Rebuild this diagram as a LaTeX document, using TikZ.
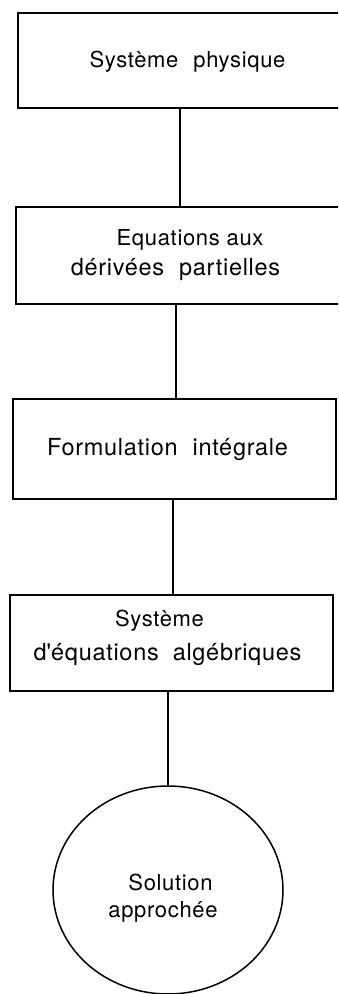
\documentclass[tikz,border=0pt]{standalone}
\usepackage{fontspec}
\setmainfont{TeX Gyre Heros}[LetterSpace=3]
\usetikzlibrary{shapes.geometric}
\newcommand{\wgap}[1]{\hspace{#1pt}}
\tikzset{
  box/.style={draw, line width=1.8pt, rectangle, inner sep=0pt},
  oval/.style={draw, line width=1.5pt, ellipse, inner sep=0pt},
  lbl/.style={anchor=base, inner sep=0pt, font=\fontsize{22}{26}\selectfont},
  lblbig/.style={anchor=base, inner sep=0pt, font=\fontsize{23.5}{27}\selectfont},
  link/.style={line width=1.8pt}
}
\begin{document}
\begin{tikzpicture}[x=1pt,y=-1pt]
\useasboundingbox (0,0) rectangle (338,994);
\clip (0,0) rectangle (338,994);
\node[box, minimum width=340pt, minimum height=95pt] (b1) at (188,60.5) {};
\node[box, minimum width=342pt, minimum height=97pt] (b2) at (187,255.5) {};
\node[box, minimum width=323pt, minimum height=100pt] (b3) at (174.5,449) {};
\node[box, minimum width=323pt, minimum height=96pt] (b4) at (171.5,643) {};
\node[oval, minimum width=230pt, minimum height=208pt] (e) at (168,890) {};

\node[lbl] (t1) at (187.5,67) {Système\wgap{15}physique};
\node[lbl] (t2a) at (190,245) {Equations aux};
\node[lblbig] (t2b) at (175.5,275) {dérivées\wgap{15}partielles};
\node[lblbig] (t3) at (167.5,455) {Formulation\wgap{15}intégrale};
\node[lbl] (t4a) at (159.5,626) {Système};
\node[lblbig] (t4b) at (167.5,660) {d\textquotesingle équations\wgap{14}algébriques};
\node[lbl] (t5a) at (170.5,890) {Solution};
\node[lbl] (t5b) at (163,917) {approchée};

\draw[link] (b1.south -| 180,0) -- (b2.north -| 180,0);
\draw[link] (b2.south -| 176,0) -- (b3.north -| 176,0);
\draw[link] (b3.south -| 173,0) -- (b4.north -| 173,0);
\draw[link] (b4.south -| e.north) -- (e.north);
\end{tikzpicture}
\end{document}
